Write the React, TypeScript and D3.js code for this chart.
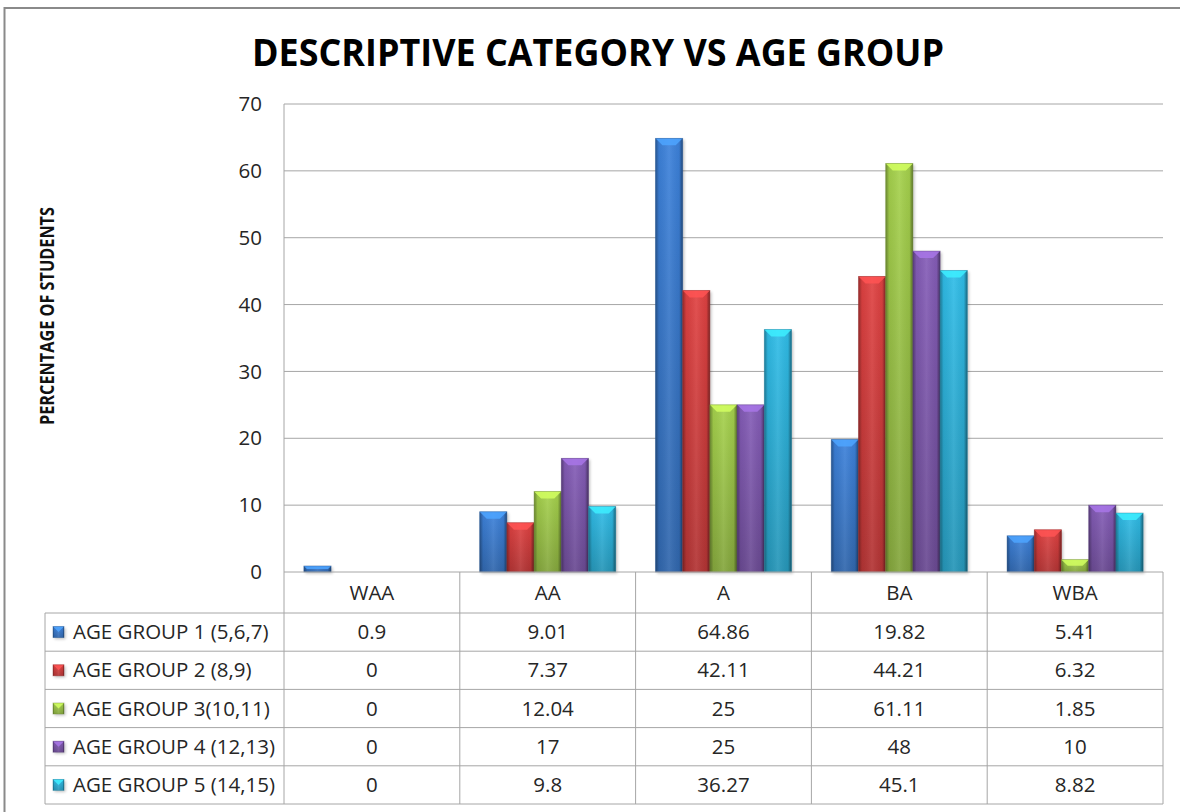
import React from "react";
import * as d3 from "d3";

// Descriptive categories along the x axis
const categories = ["WAA", "AA", "A", "BA", "WBA"];

// One entry per age group, values in the same order as categories
const seriesNames = [
  "AGE GROUP 1 (5,6,7)",
  "AGE GROUP 2 (8,9)",
  "AGE GROUP 3(10,11)",
  "AGE GROUP 4 (12,13)",
  "AGE GROUP 5 (14,15)",
];
const group1 = [0.9, 9.01, 64.86, 19.82, 5.41];
const group2 = [0, 7.37, 42.11, 44.21, 6.32];
const group3 = [0, 12.04, 25, 61.11, 1.85];
const group4 = [0, 17, 25, 48, 10];
const group5 = [0, 9.8, 36.27, 45.1, 8.82];
const seriesValues = [group1, group2, group3, group4, group5];

const yTicks = [0, 10, 20, 30, 40, 50, 60, 70];
const seriesColors = ["#3877c8", "#cd3c3c", "#98c046", "#7a55a8", "#2cadd4"];

const W = 1180;
const H = 812;
const plotLeft = 284;
const plotRight = 1163;
const plotTop = 104;
const plotBottom = 572;
const headerBottom = 613;
const tableBottom = 804;
const legendLeft = 45;
const FONT = "'Open Sans', 'DejaVu Sans', sans-serif";
const TEXT_SIZE = 20.5;

function Bar({ x, y, w, h, si }: { x: number; y: number; w: number; h: number; si: number }) {
  if (h <= 0) return null;
  const b = Math.min(7, h / 2, w / 2);
  const base = d3.color(seriesColors[si])!;
  const top = base.brighter(0.9).formatHex();
  return (
    <g>
      <rect x={x + 1.5} y={y + 1.5} width={w} height={h} fill="#000" opacity={0.25} filter="url(#shadow)" />
      <rect x={x} y={y} width={w} height={h} fill={`url(#vg${si})`} />
      <rect x={x} y={y} width={w} height={h} fill="url(#edge)" />
      <polygon
        points={`${x},${y} ${x + w},${y} ${x + w - b},${y + b} ${x + b},${y + b}`}
        fill={top}
        opacity={0.85}
      />
      <rect x={x} y={y} width={w} height={h} fill="none" stroke={base.darker(0.8).formatHex()} strokeOpacity={0.5} strokeWidth={0.8} />
    </g>
  );
}

export default function App() {
  const y = d3.scaleLinear().domain([0, 70]).range([plotBottom, plotTop]);
  const x0 = d3.scaleBand<string>().domain(categories).range([plotLeft, plotRight]).paddingInner(0).paddingOuter(0);
  const band = x0.bandwidth();
  const groupW = band * 0.774;
  const x1 = d3
    .scaleBand<number>()
    .domain(d3.range(seriesNames.length))
    .range([(band - groupW) / 2, (band + groupW) / 2])
    .padding(0);

  const rowH = (tableBottom - headerBottom) / seriesNames.length;
  const lineColor = "#a6a6a6";
  const textColor = "#262626";

  return (
    <svg
      width={W}
      height={H}
      style={{ position: "absolute", left: 0, top: 0, background: "#fff" }}
      fontFamily={FONT}
    >
      <defs>
        <filter id="shadow" x="-30%" y="-30%" width="160%" height="160%">
          <feGaussianBlur stdDeviation="1.5" />
        </filter>
        <linearGradient id="edge" x1="0" x2="1" y1="0" y2="0">
          <stop offset="0" stopColor="#000" stopOpacity={0.35} />
          <stop offset="0.13" stopColor="#000" stopOpacity={0.05} />
          <stop offset="0.5" stopColor="#fff" stopOpacity={0.08} />
          <stop offset="0.87" stopColor="#000" stopOpacity={0.05} />
          <stop offset="1" stopColor="#000" stopOpacity={0.45} />
        </linearGradient>
        {seriesColors.map((c, i) => {
          const col = d3.color(c)!;
          return (
            <linearGradient key={i} id={`vg${i}`} x1="0" x2="0" y1="0" y2="1">
              <stop offset="0" stopColor={col.brighter(0.25).formatHex()} />
              <stop offset="1" stopColor={col.darker(0.4).formatHex()} />
            </linearGradient>
          );
        })}
      </defs>

      {/* outer chart frame */}
      <rect x={4.5} y={8} width={1200} height={830} fill="#fff" stroke="#8a8a8a" strokeWidth={2} />

      <text
        x={598}
        y={66}
        textAnchor="middle"
        fontWeight="bold"
        fontSize={38}
        fill="#000"
        textLength={692}
        lengthAdjust="spacingAndGlyphs"
      >
        DESCRIPTIVE CATEGORY VS AGE GROUP
      </text>

      {/* gridlines and value axis */}
      {yTicks.map((t) => (
        <g key={t}>
          {t > 0 && (
            <line x1={plotLeft} x2={plotRight} y1={y(t)} y2={y(t)} stroke={lineColor} strokeWidth={1} />
          )}
          <text x={262} y={y(t)} dy="0.35em" textAnchor="end" fontSize={TEXT_SIZE} fill={textColor}>
            {t}
          </text>
        </g>
      ))}
      <line x1={plotLeft} x2={plotLeft} y1={plotTop} y2={plotBottom} stroke={lineColor} />

      <text
        transform={`translate(54,${316}) rotate(-90)`}
        textAnchor="middle"
        fontWeight="bold"
        fontSize={20}
        fill="#111"
        textLength={218}
        lengthAdjust="spacingAndGlyphs"
      >
        PERCENTAGE OF STUDENTS
      </text>

      {/* bars */}
      {categories.map((c, ci) => (
        <g key={c} transform={`translate(${x0(c)},0)`}>
          {seriesValues.map((vals, si) => (
            <Bar key={si} x={x1(si)!} y={y(vals[ci])} w={x1.bandwidth()} h={y(0) - y(vals[ci])} si={si} />
          ))}
        </g>
      ))}

      {/* data table */}
      <g stroke={lineColor} strokeWidth={1} fill="none">
        <line x1={plotLeft} x2={plotRight} y1={plotBottom} y2={plotBottom} />
        <line x1={legendLeft} x2={plotRight} y1={headerBottom} y2={headerBottom} />
        {seriesNames.map((_, i) => (
          <line key={i} x1={legendLeft} x2={plotRight} y1={headerBottom + rowH * (i + 1)} y2={headerBottom + rowH * (i + 1)} />
        ))}
        <line x1={legendLeft} x2={legendLeft} y1={headerBottom} y2={tableBottom} />
        {categories.map((c) => (
          <line key={c} x1={x0(c)} x2={x0(c)} y1={plotBottom} y2={tableBottom} />
        ))}
        <line x1={plotRight} x2={plotRight} y1={plotBottom} y2={tableBottom} />
      </g>

      {categories.map((c) => (
        <text
          key={c}
          x={x0(c)! + band / 2}
          y={(plotBottom + headerBottom) / 2}
          dy="0.35em"
          textAnchor="middle"
          fontSize={TEXT_SIZE}
          fill={textColor}
        >
          {c}
        </text>
      ))}

      {seriesNames.map((name, si) => {
        const cy = headerBottom + rowH * si + rowH / 2;
        return (
          <g key={name}>
            <Bar x={53} y={cy - 5.5} w={11} h={11} si={si} />
            <text x={73} y={cy} dy="0.35em" fontSize={TEXT_SIZE} fill={textColor}>
              {name}
            </text>
            {categories.map((c, ci) => (
              <text
                key={c}
                x={x0(c)! + band / 2}
                y={cy}
                dy="0.35em"
                textAnchor="middle"
                fontSize={TEXT_SIZE}
                fill={textColor}
              >
                {String(seriesValues[si][ci])}
              </text>
            ))}
          </g>
        );
      })}
    </svg>
  );
}
